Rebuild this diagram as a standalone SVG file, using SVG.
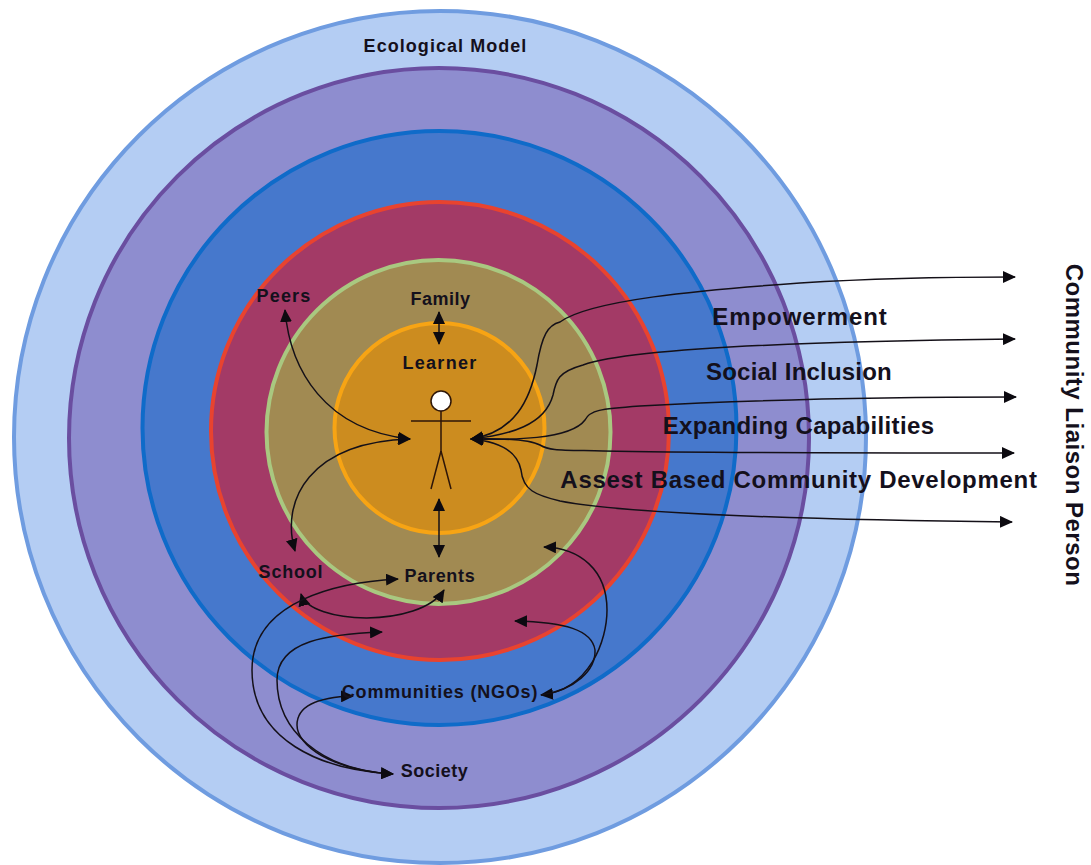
<svg xmlns="http://www.w3.org/2000/svg" width="1091" height="865" viewBox="0 0 1091 865">
<style>
text{font-family:"Liberation Sans",Arial,sans-serif;font-weight:700;fill:#14101c;text-anchor:middle}
.s{font-size:18px}
.l{font-size:24px}
.c{fill:none;stroke:#141018;stroke-width:1.5}
.r{stroke-width:4}
</style>
<defs>
<marker id="a" markerWidth="14" markerHeight="12" refX="12" refY="6" orient="auto-start-reverse" markerUnits="userSpaceOnUse"><path d="M0 0L13 6L0 12Z" fill="#0c0a10"/></marker>
</defs>
<rect width="1091" height="865" fill="#fff"/>
<g id="ring-outer"><circle class="r" cx="440" cy="437" r="426" fill="#b4cdf3" stroke="#6f9ce0"/></g>
<g id="ring-society"><circle class="r" cx="439" cy="438" r="370" fill="#8e8dcf" stroke="#6a4ea0"/></g>
<g id="ring-communities"><circle class="r" cx="439.500" cy="428" r="297" fill="#4678cc" stroke="#0f6bc9"/></g>
<g id="ring-peers"><circle class="r" cx="440" cy="431" r="229" fill="#a33a66" stroke="#e8432f"/></g>
<g id="ring-family"><circle class="r" cx="438.500" cy="432" r="172" fill="#a18a52" stroke="#a9c880"/></g>
<g id="ring-learner"><circle class="r" cx="439.500" cy="428" r="105" fill="#cc8c1f" stroke="#f7a414"/></g>
<g id="connectors">
<path class="c" marker-start="url(#a)" marker-end="url(#a)" d="M439 312V344"/>
<path class="c" marker-start="url(#a)" marker-end="url(#a)" d="M439 499V557"/>
<path class="c" marker-start="url(#a)" marker-end="url(#a)" d="M285 310C290 370 325 430 410 439"/>
<path class="c" marker-start="url(#a)" marker-end="url(#a)" d="M295 551C280 500 310 442 410 439"/>
<path class="c" marker-start="url(#a)" marker-end="url(#a)" d="M471 439C515 432 530 400 537 365C542 335 548 325 560 322C590 300 700 290 800 283C880 278 950 277 1015 277"/>
<path class="c" marker-start="url(#a)" marker-end="url(#a)" d="M471 439C510 435 545 425 553 395C556 380 558 372 583 365C620 352 750 342 1015 339"/>
<path class="c" marker-start="url(#a)" marker-end="url(#a)" d="M471 439C510 440 570 440 585 420C590 410 600 409 640 406C750 400 900 397 1016 397"/>
<path class="c" marker-start="url(#a)" marker-end="url(#a)" d="M471 439C510 438 530 440 540 445C550 451 560 450 603 451C700 453 900 453 1014 453"/>
<path class="c" marker-start="url(#a)" marker-end="url(#a)" d="M471 439C505 442 518 455 521 470C523 490 535 495 560 501C620 513 800 520 1012 522"/>
<path class="c" marker-start="url(#a)" marker-end="url(#a)" d="M301 594C310 625 420 628 444 590"/>
<path class="c" marker-start="url(#a)" marker-end="url(#a)" d="M398 579C340 582 252 600 252 670C252 740 320 770 393 774"/>
<path class="c" marker-end="url(#a)" d="M393 774C320 770 277 730 277 680C277 640 330 634 382 632"/>
<path class="c" marker-start="url(#a)" marker-end="url(#a)" d="M393 774C330 770 297 745 297 725C297 705 320 697 353 696"/>
<path class="c" marker-start="url(#a)" marker-end="url(#a)" d="M541 695C590 690 607 640 607 610C607 570 580 548 544 547"/>
<path class="c" marker-end="url(#a)" d="M541 695C575 690 596 670 595 650C592 630 565 622 515 621"/>
</g>
<g id="learner-figure" fill="none" stroke="#2e1608" stroke-width="1.500">
<circle cx="441" cy="401" r="10" fill="#fff"/>
<path d="M441 411V451M411 421H471M441 451L431 489M441 451L451 489"/>
</g>
<g id="labels">
<text class="s" x="445.500" y="52" letter-spacing="1.05">Ecological Model</text>
<text class="s" x="284" y="302" letter-spacing="1.2">Peers</text>
<text class="s" x="440.500" y="305" letter-spacing=".5">Family</text>
<text class="s" x="440" y="369" letter-spacing="1.3">Learner</text>
<text class="s" x="291" y="578" letter-spacing=".8">School</text>
<text class="s" x="440" y="582" letter-spacing=".7">Parents</text>
<text class="s" x="440" y="698" letter-spacing=".8">Communities (NGOs)</text>
<text class="s" x="434.500" y="777" letter-spacing=".5">Society</text>
<text class="l" x="800" y="325" letter-spacing=".9">Empowerment</text>
<text class="l" x="799" y="380" letter-spacing=".2">Social Inclusion</text>
<text class="l" x="798.500" y="434" letter-spacing=".35">Expanding Capabilities</text>
<text class="l" x="799" y="488" letter-spacing=".7">Assest Based Community Development</text>
<text class="l" transform="translate(1066 425) rotate(90)" x="0" y="0" letter-spacing=".5">Community Liaison Person</text>
</g>
</svg>
